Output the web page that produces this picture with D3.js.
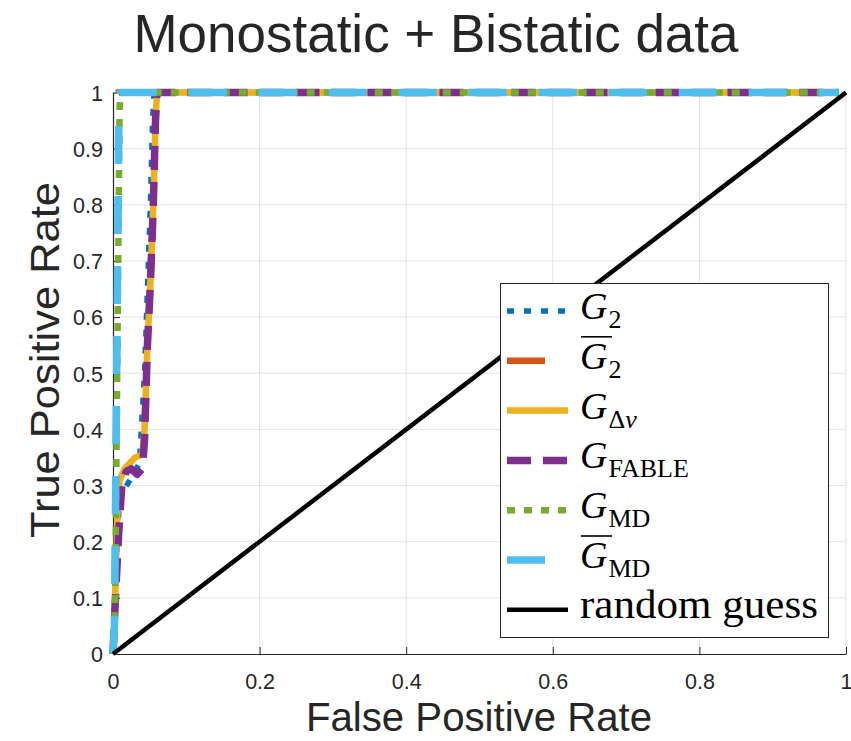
<!DOCTYPE html>
<html>
<head>
<meta charset="utf-8">
<script src="https://cdn.jsdelivr.net/npm/d3@7"></script>
<style>
  html, body { margin: 0; padding: 0; background: #fff; }
  svg { display: block; }
</style>
</head>
<body>
<div id="chart"></div>
<script>
// ROC curves for each detector, plus the random-guess diagonal
const fprG2     = [0, 0.004, 0.009, 0.028, 0.036, 0.043, 0.047, 0.051, 0.054, 0.056, 0.99];
const tprG2     = [0, 0.150, 0.280, 0.320, 0.340, 0.500, 0.650, 0.800, 0.950, 1.000, 1.00];
const fprG2bar  = [0, 0.002, 0.008, 0.008, 0.99];
const tprG2bar  = [0, 0.050, 0.950, 1.000, 1.00];
const fprGdv    = [0, 0.003, 0.006, 0.009, 0.016, 0.030, 0.040, 0.043, 0.047, 0.051, 0.055, 0.058, 0.060, 0.99];
const tprGdv    = [0, 0.100, 0.250, 0.310, 0.330, 0.350, 0.355, 0.400, 0.550, 0.660, 0.800, 0.950, 1.000, 1.00];
const fprFable  = [0, 0.004, 0.008, 0.012, 0.018, 0.025, 0.033, 0.040, 0.043, 0.047, 0.051, 0.055, 0.058, 0.060, 0.99];
const tprFable  = [0, 0.120, 0.220, 0.300, 0.325, 0.330, 0.320, 0.330, 0.380, 0.550, 0.660, 0.800, 0.950, 1.000, 1.00];
const fprMD     = [0, 0.003, 0.009, 0.010, 0.99];
const tprMD     = [0, 0.100, 0.970, 1.000, 1.00];
const fprMDbar  = [0, 0.002, 0.008, 0.010, 0.99];
const tprMDbar  = [0, 0.050, 0.950, 1.000, 1.00];
const fprRandom = [0, 1];
const tprRandom = [0, 1];

const xTicks = [0, 0.2, 0.4, 0.6, 0.8, 1];
const yTicks = [0, 0.1, 0.2, 0.3, 0.4, 0.5, 0.6, 0.7, 0.8, 0.9, 1];

const W = 851, H = 741;
const plotLeft = 113, plotRight = 846, plotTop = 92.5, plotBottom = 654;

const svg = d3.select("#chart").append("svg")
  .attr("width", W).attr("height", H)
  .style("font-family", "'Liberation Sans', Arial, sans-serif");

const x = d3.scaleLinear().domain([0, 1]).range([plotLeft, plotRight]);
const y = d3.scaleLinear().domain([0, 1]).range([plotBottom, plotTop]);

// grid
const grid = svg.append("g").attr("stroke", "#e3e3e3").attr("stroke-width", 1);
xTicks.filter(d => d > 0).forEach(d => grid.append("line")
  .attr("x1", x(d)).attr("x2", x(d)).attr("y1", y(0)).attr("y2", y(1)));
yTicks.filter(d => d > 0).forEach(d => grid.append("line")
  .attr("x1", x(0)).attr("x2", x(1)).attr("y1", y(d)).attr("y2", y(d)));

// axes (ticks point inward)
const axisColor = "#262626";
const xAxis = svg.append("g").attr("transform", `translate(0,${plotBottom})`)
  .call(d3.axisBottom(x).tickValues(xTicks).tickSizeInner(-7).tickSizeOuter(0)
    .tickFormat(d3.format("~g")));
xAxis.select(".domain").attr("stroke", axisColor).attr("stroke-width", 1.2);
xAxis.selectAll(".tick line").attr("stroke", axisColor);
xAxis.selectAll(".tick text").attr("fill", axisColor).attr("font-size", 21.5)
  .attr("y", 35).attr("dy", 0);

const yAxis = svg.append("g").attr("transform", `translate(${plotLeft},0)`)
  .call(d3.axisLeft(y).tickValues(yTicks).tickSizeInner(-7).tickSizeOuter(0)
    .tickFormat(d3.format("~g")));
yAxis.select(".domain").attr("stroke", axisColor).attr("stroke-width", 1.2);
yAxis.selectAll(".tick text").attr("fill", axisColor).attr("font-size", 21.5)
  .attr("x", -10).attr("dy", "0.36em");
yAxis.selectAll(".tick line").attr("stroke", axisColor);

// curves
const series = [
  { fpr: fprG2,     tpr: tprG2,     color: "#0072BD", width: 5.5, dash: "7,10" },
  { fpr: fprG2bar,  tpr: tprG2bar,  color: "#D95319", width: 6.5, dash: "38,32" },
  { fpr: fprGdv,    tpr: tprGdv,    color: "#EDB120", width: 6.5, dash: null },
  { fpr: fprFable,  tpr: tprFable,  color: "#7E2F8E", width: 7.5, dash: "24,12" },
  { fpr: fprMD,     tpr: tprMD,     color: "#77AC30", width: 6.5, dash: "8,9" },
  { fpr: fprMDbar,  tpr: tprMDbar,  color: "#4DBEEE", width: 7.5, dash: "38,32" },
  { fpr: fprRandom, tpr: tprRandom, color: "#000000", width: 4.5, dash: null }
];

const line = d3.line().x(d => x(d[0])).y(d => y(d[1]));
const curves = svg.append("g").attr("fill", "none");
series.forEach((s, i) => {
  curves.append("path")
    .datum(d3.zip(s.fpr, s.tpr))
    .attr("d", line)
    .attr("stroke", s.color)
    .attr("stroke-width", s.width)
    .attr("stroke-linejoin", i === 1 ? "miter" : "round")
    .attr("stroke-dasharray", s.dash);
});

// titles
svg.append("text").attr("x", 436).attr("y", 52).attr("text-anchor", "middle")
  .attr("font-size", 53).attr("fill", axisColor)
  .attr("textLength", 605).attr("lengthAdjust", "spacingAndGlyphs")
  .text("Monostatic + Bistatic data");
svg.append("text").attr("x", 479).attr("y", 731).attr("text-anchor", "middle")
  .attr("font-size", 40).attr("fill", axisColor)
  .attr("textLength", 346).attr("lengthAdjust", "spacingAndGlyphs")
  .text("False Positive Rate");
svg.append("text").attr("transform", "translate(59,360) rotate(-90)")
  .attr("text-anchor", "middle").attr("font-size", 41).attr("fill", axisColor)
  .attr("textLength", 356).attr("lengthAdjust", "spacingAndGlyphs")
  .text("True Positive Rate");

// legend
const lg = svg.append("g");
lg.append("rect").attr("x", 500.5).attr("y", 283.5).attr("width", 328).attr("height", 354)
  .attr("fill", "#fff").attr("stroke", axisColor).attr("stroke-width", 1);

const labels = [
  { sub: [["2", "normal"]], bar: false },
  { sub: [["2", "normal"]], bar: true },
  { sub: [["\u0394", "normal"], ["v", "italic"]], bar: false },
  { sub: [["FABLE", "normal"]], bar: false },
  { sub: [["MD", "normal"]], bar: false },
  { sub: [["MD", "normal"]], bar: true },
  { plain: "random guess" }
];
const serif = "'Liberation Serif', 'Times New Roman', serif";
labels.forEach((lab, i) => {
  const s = series[i];
  const yc = 311 + i * 49.8;
  lg.append("line").attr("x1", 507).attr("x2", 568).attr("y1", yc).attr("y2", yc)
    .attr("stroke", s.color).attr("stroke-width", s.width)
    .attr("stroke-dasharray", s.dash);
  if (lab.plain) {
    lg.append("text").attr("x", 580).attr("y", yc + 8)
      .attr("font-family", serif).attr("font-size", 40)
      .attr("textLength", 238).attr("lengthAdjust", "spacingAndGlyphs")
      .text(lab.plain);
    return;
  }
  const t = lg.append("text").attr("x", 580).attr("y", yc + 8)
    .attr("font-family", serif).attr("font-size", 38);
  t.append("tspan").attr("font-style", "italic").text("G");
  lab.sub.forEach((p, k) => {
    const ts = t.append("tspan").attr("font-size", 26).attr("font-style", p[1]).text(p[0]);
    if (k === 0) ts.attr("dx", 1).attr("dy", 9);
  });
  if (lab.bar) {
    lg.append("line").attr("x1", 581).attr("x2", 612).attr("y1", yc - 24).attr("y2", yc - 24)
      .attr("stroke", "#000").attr("stroke-width", 1.6);
  }
});
</script>
</body>
</html>
